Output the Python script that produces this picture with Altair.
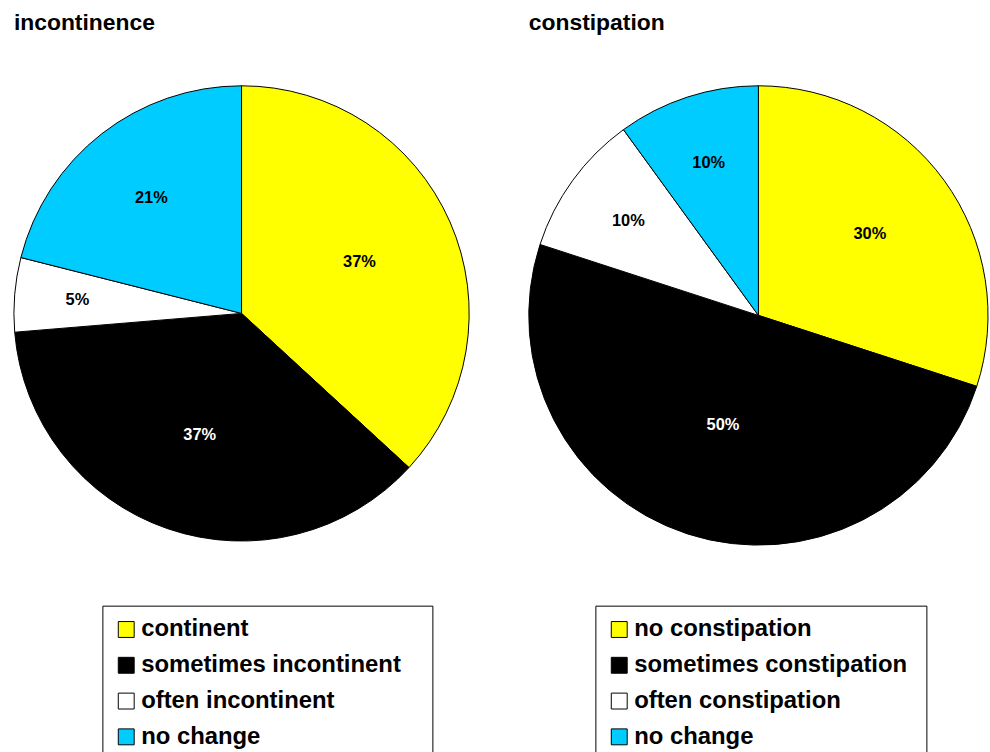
import altair as alt
import pandas as pd

# ---- data ----
titles = ["incontinence", "constipation"]
inc_categories = ["continent", "sometimes incontinent", "often incontinent", "no change"]
inc_counts = [7, 7, 1, 4]
con_categories = ["no constipation", "sometimes constipation", "often constipation", "no change"]
con_counts = [3, 5, 1, 1]
slice_colors = ["#FFFF00", "#000000", "#FFFFFF", "#00CCFF"]

FONT = "Liberation Sans"


def panel(title, cats, counts, size, legend_x, legend_y, extra_right):
    radius = size / 2
    df = pd.DataFrame({"category": cats, "count": counts, "idx": list(range(len(cats)))})
    base = alt.Chart(df)
    arcs = base.mark_arc(outerRadius=radius, stroke="black", strokeWidth=1).encode(
        theta=alt.Theta("count:Q", stack=True),
        order=alt.Order("idx:Q", sort="ascending"),
        color=alt.Color(
            "category:N",
            sort=cats,
            scale=alt.Scale(domain=cats, range=slice_colors),
            legend=alt.Legend(
                title=" ",
                titleOrient="right",
                titlePadding=extra_right,
                titleFontSize=1,
                orient="none",
                legendX=legend_x,
                legendY=legend_y,
                direction="vertical",
                symbolType="square",
                symbolSize=256,
                symbolStrokeColor="black",
                symbolStrokeWidth=1,
                symbolOpacity=1,
                labelFont=FONT,
                labelFontSize=24,
                labelFontWeight="bold",
                labelColor="black",
                labelLimit=500,
                labelOffset=3,
                rowPadding=12,
                padding=12,
                strokeColor="black",
                fillColor="white",
            ),
        ),
    )
    labels = (
        base.transform_joinaggregate(total="sum(count)")
        .transform_window(cum="sum(count)", sort=[alt.SortField("idx", order="ascending")])
        .transform_calculate(
            mid="datum.cum - datum.count / 2",
            pct="round(datum.count / datum.total * 100) + '%'",
            lr=f"{radius} * (0.75 - 0.5 * datum.count / datum.total)",
        )
        .mark_text(font=FONT, fontWeight="bold", fontSize=16.5)
        .encode(
            theta=alt.Theta("mid:Q", stack=None),
            radius=alt.Radius("lr:Q", scale=None),
            text="pct:N",
            color=alt.condition(alt.datum.idx == 1, alt.value("white"), alt.value("black")),
        )
    )
    return alt.layer(arcs, labels).properties(
        width=size,
        height=size,
        title=alt.Title(
            title,
            anchor="start",
            frame="group",
            font=FONT,
            fontSize=23,
            fontWeight="bold",
            color="black",
            baseline="alphabetic",
            offset=31,
        ),
    )


left = panel(titles[0], inc_categories, inc_counts, 458, 89, 523, 20)
right = panel(titles[1], con_categories, con_counts, 462, 67, 523, 7)

chart = (
    alt.hconcat(left, right, spacing=56)
    .resolve_scale(color="independent")
    .properties(padding={"left": 12, "top": 10, "right": 0, "bottom": 0}, background="white")
    .configure_view(stroke=None)
)

chart.save("out.html", embed_options={"renderer": "svg", "actions": False})
